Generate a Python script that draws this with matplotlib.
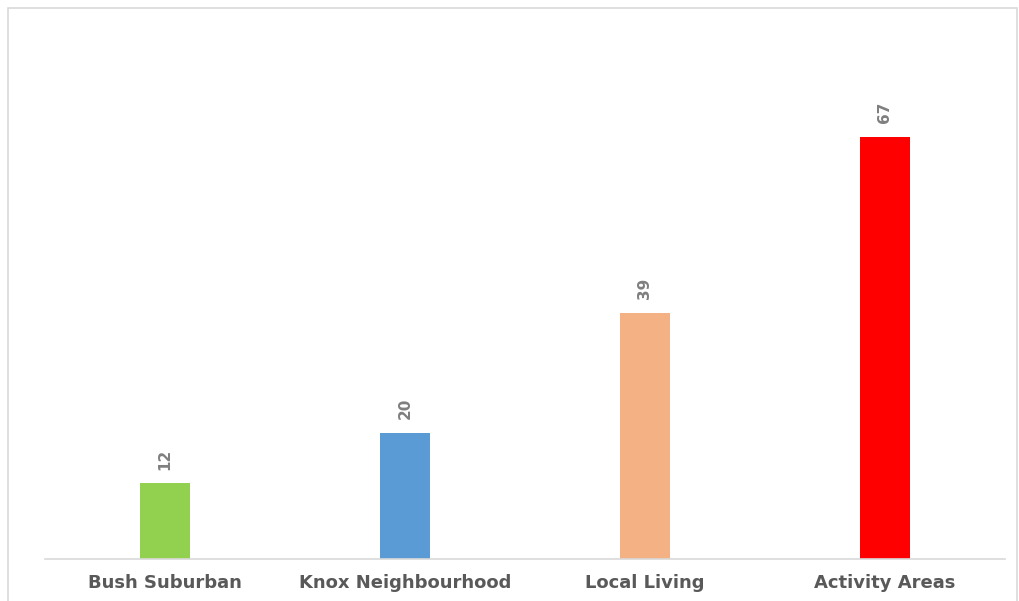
import matplotlib
matplotlib.use("Agg")
import matplotlib.pyplot as plt
from matplotlib.patches import Rectangle

# data
categories = ["Bush Suburban", "Knox Neighbourhood", "Local Living", "Activity Areas"]
values = [12, 20, 39, 67]
colors = ["#92d050", "#5b9bd5", "#f4b183", "#ff0000"]

W, H = 1019, 601
fig = plt.figure(figsize=(W / 100, H / 100), dpi=100)
fig.patch.set_facecolor("white")

# outer chart border (light grey, runs off the bottom)
fig.patches.append(Rectangle((8 / W, -0.05), (1017 - 8) / W, 1 - 8 / H + 0.05,
                             transform=fig.transFigure, fill=False,
                             edgecolor="#d9d9d9", lw=1.2))

ax = fig.add_axes([45 / W, 1 - 559 / H, 960 / W, (559 - 55) / H])
x = range(len(categories))
bars = ax.bar(x, values, width=0.208, color=colors, zorder=2)

ax.set_xlim(-0.5, 3.5)
ax.set_ylim(0, 80)
for s in ["top", "right", "left"]:
    ax.spines[s].set_visible(False)
ax.spines["bottom"].set_color("#d9d9d9")
ax.spines["bottom"].set_linewidth(1.2)
ax.set_yticks([])
ax.set_xticks(list(x))
ax.set_xticklabels(categories, fontsize=13, fontweight="bold", color="#595959")
ax.tick_params(axis="x", length=0, pad=11)

for b, v in zip(bars, values):
    ax.annotate(str(v), (b.get_x() + b.get_width() / 2, v),
                xytext=(0, 10), textcoords="offset points",
                rotation=90, ha="center", va="bottom",
                fontsize=11, fontweight="bold", color="#7f7f7f")

fig.savefig("out.png", dpi=100)
